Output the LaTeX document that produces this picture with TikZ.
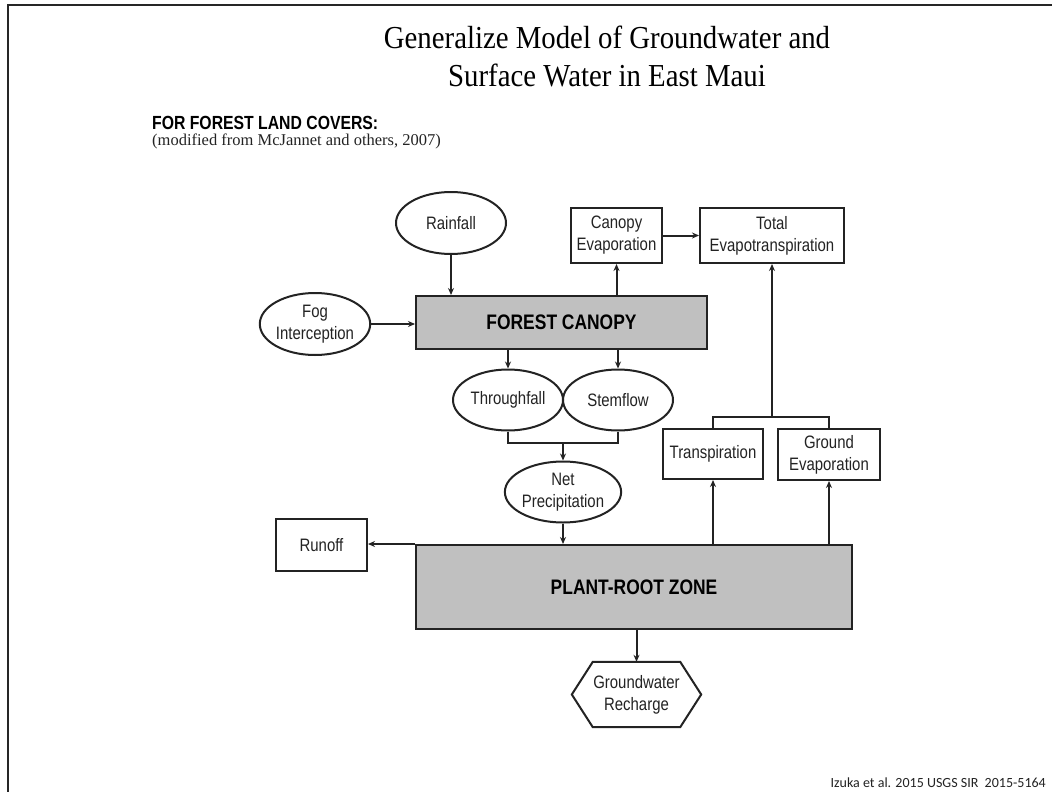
\documentclass[tikz,border=0pt]{standalone}
\usepackage{fontspec}
\setmainfont{Liberation Serif}
\setsansfont{Liberation Sans}[FakeStretch=0.83]
\newfontfamily\calibfont{Carlito}
\newfontfamily\titlefam{Liberation Serif}[FakeStretch=0.9]
\usetikzlibrary{shapes.geometric,arrows.meta,calc}
\definecolor{boxgray}{RGB}{192,192,192}
\definecolor{ink}{RGB}{35,35,35}
\definecolor{tipcol}{RGB}{55,20,20}
\begin{document}
\begin{tikzpicture}[x=1pt,y=-1pt,
  line/.style={draw=ink, line width=2pt},
  arr/.style={line, -{Stealth[length=7pt,width=6pt,fill=tipcol]}},
  lbl/.style={font=\sffamily\fontsize{18}{22}\selectfont, text=ink, align=center},
  ell/.style={ellipse, draw=ink, line width=2pt, inner sep=0pt, lbl},
  bx/.style={rectangle, draw=ink, line width=2pt, inner sep=0pt, fill=white, lbl},
  graybox/.style={rectangle, draw=ink, line width=2pt, inner sep=0pt, fill=boxgray,
     font=\sffamily\bfseries\fontsize{21}{24}\selectfont, text=black},
  titlefont/.style={font=\titlefam\fontsize{32}{38}\selectfont, inner sep=0pt}
]
\useasboundingbox (0,0) rectangle (1052,792);
\fill[white] (0,0) rectangle (1052,792);
% slide frame
\draw[line width=2pt, black!85] (8,792) -- (8,5) -- (1052,5);

% title
\node[titlefont] (t1) at (607,37) {Generalize Model of Groundwater and};
\node[titlefont] (t2) at (607,75) {Surface Water in East Maui};

% heading
\node[anchor=west, inner sep=0pt, font=\sffamily\bfseries\fontsize{19}{22}\selectfont] (hd) at (152,123) {FOR FOREST LAND COVERS:};
\node[anchor=west, inner sep=0pt, font=\fontsize{16.5}{19}\selectfont, text=ink] (sub) at (152,141) {(modified from McJannet and others, 2007)};

% nodes
\node[ell, minimum width=110pt, minimum height=62pt] (rain) at (451,223) {Rainfall};
\node[ell, minimum width=109pt, minimum height=62pt] (fog) at (315,324) {Fog\\Interception};
\node[graybox, minimum width=291pt, minimum height=53pt] (canopy) at (561.5,322.5) {FOREST CANOPY};
\node[bx, minimum width=91pt, minimum height=55pt] (ce) at (616.5,235.5) {Canopy\\Evaporation};
\node[bx, minimum width=144pt, minimum height=55pt] (te) at (772,235.5) {Total\\Evapotranspiration};
\node[ell, minimum width=110pt, minimum height=61pt] (thr) at (508,400) {Throughfall};
\node[ell, minimum width=110pt, minimum height=61pt] (stem) at (618,400) {Stemflow};
\node[ell, minimum width=110pt, minimum height=61pt] (np) at (563,492) {Net\\Precipitation};
\node[bx, minimum width=91pt, minimum height=52pt] (runoff) at (321.5,545) {Runoff};
\node[graybox, minimum width=436pt, minimum height=84pt] (prz) at (634,587) {PLANT-ROOT ZONE};
\node[bx, minimum width=100pt, minimum height=50pt] (tr) at (713,454) {Transpiration};
\node[bx, minimum width=102pt, minimum height=51pt] (ge) at (829,454.5) {Ground\\Evaporation};
\node[lbl, minimum width=129pt, minimum height=65pt, inner sep=0pt] (gw) at (636.5,694.5) {Groundwater\\Recharge};
\draw[ink, line width=2pt] (gw.west) -- ([xshift=21pt]gw.north west) -- ([xshift=-21pt]gw.north east)
   -- (gw.east) -- ([xshift=-21pt]gw.south east) -- ([xshift=21pt]gw.south west) -- cycle;

% junction coordinates
\coordinate (mrg) at (563,443);
\coordinate (br) at (772,417);

% connectors
\draw[arr] (rain.south) -- (canopy.north -| rain.south);
\draw[arr] (fog.east) -- (canopy.west |- fog.east);
\draw[arr] (canopy.north -| ce.south) -- (ce.south);
\draw[arr] (ce.east) -- (te.west |- ce.east);
\draw[arr] (canopy.south -| thr.north) -- (thr.north);
\draw[arr] (canopy.south -| stem.north) -- (stem.north);
\draw[line] (thr.south) -- (thr.south |- mrg) -- (stem.south |- mrg) -- (stem.south);
\draw[arr] (mrg) -- (np.north);
\draw[arr] (np.south) -- (prz.north -| np.south);
\draw[arr] (prz.north west) -- (runoff.east |- prz.north west);
\draw[arr] (prz.south -| gw.north) -- (gw.north);
\draw[arr] (prz.north -| tr.south) -- (tr.south);
\draw[arr] (prz.north -| ge.south) -- (ge.south);
\draw[line] (tr.north) -- (tr.north |- br) -- (ge.north |- br) -- (ge.north);
\draw[arr] (br) -- (te.south);

% footer
\node[anchor=east, inner sep=0pt, font=\calibfont\fontsize{14}{16}\selectfont, text=ink] (foot) at (1046,783) {Izuka et al. 2015 USGS SIR\ \ 2015-5164};
\end{tikzpicture}
\end{document}
